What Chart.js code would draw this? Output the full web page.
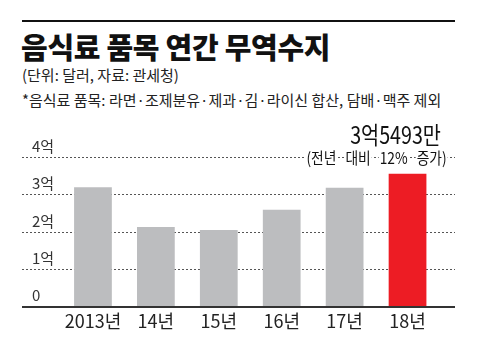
<!DOCTYPE html>
<html><head><meta charset="utf-8">
<script src="https://cdn.jsdelivr.net/npm/chart.js@4/dist/chart.umd.min.js"></script>
<style>
html,body{margin:0;padding:0;background:#fff;width:478px;height:358px;overflow:hidden}
#wrap{position:relative;width:478px;height:358px}
#rule{position:absolute;left:22px;top:20px;width:433px;height:2px;background:#111}
.t{position:absolute;white-space:nowrap;transform-origin:0 0;font-family:'Noto Sans CJK KR','Noto Sans',sans-serif;color:#111}
#title{left:21px;top:25px;font-size:29px;font-weight:900;transform:scaleX(1.0);letter-spacing:-0.3px}
#sub1{left:22px;top:64px;font-size:15px;color:#222;transform:scaleX(1.0)}
#sub2{left:22px;top:89px;font-size:15px;color:#222;transform:scaleX(1.0)}
canvas{position:absolute;left:0;top:0}
</style></head>
<body><div id="wrap">
<div id="rule"></div>
<div class="t" id="title">음식료 품목 연간 무역수지</div>
<div class="t" id="sub1">(단위: 달러, 자료: 관세청)</div>
<div class="t" id="sub2">*음식료 품목: 라면·조제분유·제과·김·라이신 합산, 담배·맥주 제외</div>
<canvas id="c" width="478" height="358"></canvas>
</div>
<script>
const categories = ['2013년','14년','15년','16년','17년','18년'];
const values = [3.19, 2.13, 2.05, 2.59, 3.18, 3.5493];
const yTicks = [0,1,2,3,4];
const yTickLabels = ['0','1억','2억','3억','4억'];
const annoMain = '3억5493만';
const annoSub = '(전년 대비 12% 증가)';

const FONT = "'Noto Sans CJK KR',sans-serif";

const gridPlugin = {
  id:'gridPlugin',
  beforeDatasetsDraw(chart){
    const ctx = chart.ctx, y = chart.scales.y;
    ctx.save();
    ctx.strokeStyle = '#555'; ctx.lineWidth = 1; ctx.setLineDash([2,2]);
    yTicks.forEach(v=>{
      if(v===0) return;
      const py = Math.round(y.getPixelForValue(v))+0.5;
      ctx.beginPath(); ctx.moveTo(22,py); ctx.lineTo(455,py); ctx.stroke();
    });
    ctx.restore();
  },
  afterDatasetsDraw(chart){
    const ctx = chart.ctx, y = chart.scales.y;
    ctx.save();
    const py = y.getPixelForValue(0);
    ctx.fillStyle = '#333';
    ctx.fillRect(22, Math.round(py)-1, 433, 2);
    const meta = chart.getDatasetMeta(0);
    const bar = meta.data[meta.data.length-1];
    const cx = bar.x;
    // main annotation (condensed)
    ctx.save();
    ctx.translate(cx-12, 135);
    ctx.scale(0.82,1);
    ctx.textAlign='center'; ctx.textBaseline='middle';
    ctx.font = "24px " + FONT;
    ctx.fillStyle='#111';
    ctx.fillText(annoMain, 0, 0);
    ctx.restore();
    // sub annotation, words on white, gridline visible through spaces
    ctx.save();
    const gy = Math.round(y.getPixelForValue(4))+0.5;
    const sc = 0.86;
    ctx.font = "16px " + FONT;
    const words = annoSub.split(' ');
    const gap = 9;
    const widths = words.map(w=>ctx.measureText(w).width*sc);
    const total = widths.reduce((a,b)=>a+b,0) + gap*(words.length-1);
    let x = cx - 31 - total/2;
    ctx.textBaseline='middle'; ctx.textAlign='left';
    words.forEach((w,i)=>{
      ctx.fillStyle='#fff';
      ctx.fillRect(x-1, gy-10, widths[i]+2, 20);
      ctx.save();
      ctx.translate(x, gy);
      ctx.scale(sc,1);
      ctx.fillStyle='#111';
      ctx.fillText(w, 0, 0);
      ctx.restore();
      x += widths[i] + gap;
    });
    ctx.restore();
    ctx.restore();
  }
};

new Chart(document.getElementById('c'), {
  type:'bar',
  data:{labels:categories, datasets:[{data:values,
    backgroundColor: values.map((v,i)=> i===values.length-1 ? '#ed1c24' : '#bcbdbf'),
    barPercentage:0.6, categoryPercentage:1.0}]},
  options:{
    responsive:false, animation:false, devicePixelRatio:1,
    layout:{padding:{left:32,right:39,top:157,bottom:25.7}},
    plugins:{legend:{display:false},tooltip:{enabled:false}},
    scales:{
      x:{grid:{display:false,drawTicks:false},border:{display:false},
         afterFit(s){s.height=25.6;},
         ticks:{color:'#222',font:{family:FONT,size:18},padding:4}},
      y:{min:0,max:4,
         afterFit(s){s.width=29.5;},
         afterBuildTicks(s){s.ticks = yTicks.map(v=>({value:v}));},
         grid:{display:false,drawTicks:false},border:{display:false},
         ticks:{color:'#333',font:{family:FONT,size:15},crossAlign:'far',labelOffset:-11,padding:0,
           callback:(v)=>yTickLabels[yTicks.indexOf(v)]}}
    }
  },
  plugins:[gridPlugin]
});
</script>
</body></html>
